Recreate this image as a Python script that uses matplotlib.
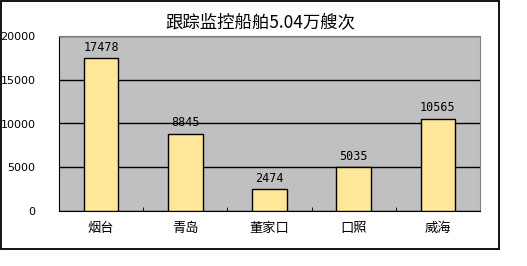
import numpy as np
import matplotlib.pyplot as plt
from matplotlib.patches import Rectangle

plt.rcParams['font.family'] = ['Noto Sans CJK SC', 'DejaVu Sans']

# data
cities = ['烟台', '青岛', '董家口', '口照', '威海']
ships = [17478, 8845, 2474, 5035, 10565]
yticks = [0, 5000, 10000, 15000, 20000]
title = '跟踪监控船舶5.04万艘次'

fig = plt.figure(figsize=(5.27, 2.66), dpi=100)
fig.patch.set_facecolor('white')

# outer chart border
fig.add_artist(Rectangle((0.5 / 527, 17 / 266), 498.5 / 527, 248.5 / 266,
                         transform=fig.transFigure, fill=False,
                         edgecolor='black', linewidth=1.3))

ax = fig.add_axes([59 / 527, 1 - 211 / 266, 421 / 527, 175 / 266])
ax.set_facecolor('#C0C0C0')

x = np.arange(len(cities))
ax.bar(x, ships, width=0.41, color='#FFE699', edgecolor='black', linewidth=1.0, zorder=3)
for xi, v in zip(x, ships):
    ax.text(xi, v + 500, str(v), ha='center', va='bottom', fontsize=8.5,
            family='DejaVu Sans Mono', zorder=4)

ax.set_xlim(-0.5, len(cities) - 0.5)
ax.set_ylim(0, 20000)
ax.set_yticks(yticks)
ax.set_yticklabels([str(t) for t in yticks], fontsize=8, family='DejaVu Sans')
ax.tick_params(axis='y', length=0, pad=17)
for lbl in ax.get_yticklabels():
    lbl.set_horizontalalignment('right')

ax.set_xticks(x)
ax.set_xticklabels(cities, fontsize=9.5)
ax.set_xticks(np.arange(len(cities) + 1) - 0.5, minor=True)
ax.tick_params(axis='x', which='major', length=0, pad=8)
ax.tick_params(axis='x', which='minor', direction='in', length=3, color='black')

ax.grid(axis='y', color='black', linewidth=1.0, zorder=1)
ax.set_axisbelow(True)

for side in ['top', 'right']:
    ax.spines[side].set_color('#808080')
ax.spines['left'].set_color('black')
ax.spines['bottom'].set_color('black')

fig.text(260 / 527, 1 - 22 / 266, title, ha='center', va='center', fontsize=12.5)

fig.savefig('out.png', dpi=100)
